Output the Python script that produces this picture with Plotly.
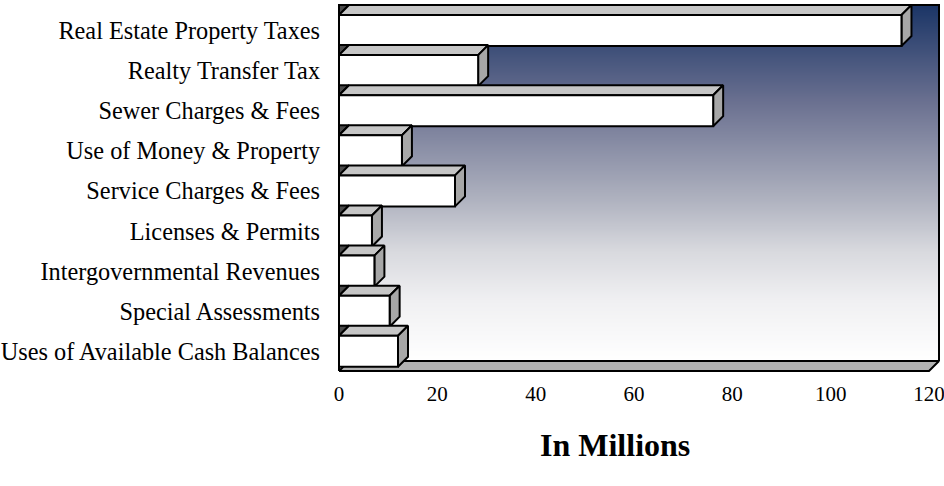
import numpy as np
import plotly.graph_objects as go

# Revenue sources (top to bottom) and amounts in millions
categories = [
    "Real Estate Property Taxes",
    "Realty Transfer Tax",
    "Sewer Charges & Fees",
    "Use of Money & Property",
    "Service Charges & Fees",
    "Licenses & Permits",
    "Intergovernmental Revenues",
    "Special Assessments",
    "Uses of Available Cash Balances",
]
revenue = [114.4, 28.3, 76.1, 12.8, 23.6, 6.7, 7.2, 10.3, 12.0]
x_ticks = [0, 20, 40, 60, 80, 100, 120]

W, H = 944, 486
X_MAX = 120

# ---- pixel layout of the pseudo-3D plot box ----
PX_X0, PX_XMAX = 339, 929          # front edge: 0 .. 120
SX = (PX_XMAX - PX_X0) / X_MAX     # px per million
SY = 40.1                          # px per category row
ROW0 = 30.5                        # px centre of first row
DOM_BOTTOM_PX = 374
X_LO, X_HI = -0.6, 122.6

x_dom = [(PX_X0 + X_LO * SX) / W, (PX_X0 + X_HI * SX) / W]
y_top_val = -ROW0 / SY
y_bot_val = (DOM_BOTTOM_PX - ROW0) / SY
y_dom = [(H - DOM_BOTTOM_PX) / H, 1.0]

HALF = 15.5 / SY                   # half bar thickness
DX = 10 / SX                       # depth offset (x)
DY = 10 / SY                       # depth offset (y, upward)
FLOOR = y_top_val + 371 / SY       # front floor edge
WALL_TOP = -HALF - DY

EDGE = dict(color="black", width=2)
TOP_FACE = "#c6c6c6"
SIDE_FACE = "#a7a7a7"
SHADOW = "#4a4a4a"
FLOOR_FACE = "#b2b2b2"

fig = go.Figure()

# back wall gradient
n_rows = 80
wall_y = np.linspace(WALL_TOP, FLOOR - DY, n_rows + 1)
t = (np.arange(n_rows) + 0.5) / n_rows
fig.add_trace(go.Heatmap(
    x=[DX, X_MAX / 2 + DX, X_MAX + DX],
    y=wall_y,
    z=np.column_stack([t, t]),
    zmin=0, zmax=1,
    colorscale=[
        [0.0, "#1b3566"],
        [0.27, "#6a7090"],
        [0.55, "#b0b3c0"],
        [0.69, "#d8d9de"],
        [0.83, "#f0f0f2"],
        [1.0, "#ffffff"],
    ],
    zsmooth="best",
    showscale=False,
    hoverinfo="skip",
))

# wall outline (top and right edges)
fig.add_trace(go.Scatter(
    x=[DX, X_MAX + DX, X_MAX + DX],
    y=[WALL_TOP, WALL_TOP, FLOOR - DY],
    mode="lines", line=EDGE, hoverinfo="skip", showlegend=False,
))

# floor slab
fig.add_trace(go.Scatter(
    x=[0, X_MAX, X_MAX + DX, DX, 0],
    y=[FLOOR, FLOOR, FLOOR - DY, FLOOR - DY, FLOOR],
    mode="lines", fill="toself", fillcolor=FLOOR_FACE, line=EDGE,
    hoverinfo="skip", showlegend=False,
))


def face(xs, ys, color):
    fig.add_trace(go.Scatter(
        x=xs + [xs[0]], y=ys + [ys[0]], mode="lines", fill="toself",
        fillcolor=color, line=EDGE, hoverinfo="skip", showlegend=False,
    ))


# bars: shadow wedge, top, side and front faces
for i, v in enumerate(revenue):
    top, bot = i - HALF, i + HALF
    face([0, 0, DX], [top, top - DY, top - DY], SHADOW)
    face([0, v, v + DX, DX], [top, top, top - DY, top - DY], TOP_FACE)
    face([v, v + DX, v + DX, v], [top, top - DY, bot - DY, bot], SIDE_FACE)
    face([0, v, v, 0], [top, top, bot, bot], "white")

# front-left edge
fig.add_trace(go.Scatter(
    x=[0, 0], y=[-HALF - DY, FLOOR], mode="lines", line=EDGE,
    hoverinfo="skip", showlegend=False,
))

fig.update_layout(
    width=W, height=H,
    margin=dict(l=0, r=0, t=0, b=0, autoexpand=False),
    paper_bgcolor="white", plot_bgcolor="rgba(0,0,0,0)",
    font=dict(family="Liberation Serif, Times New Roman, serif", color="black"),
    showlegend=False,
    xaxis=dict(
        domain=x_dom, range=[X_LO, X_HI], tickvals=x_ticks,
        ticktext=[str(v) for v in x_ticks],
        showgrid=False, zeroline=False, showline=False, ticks="",
        tickfont=dict(size=21), ticklabelstandoff=5,
        automargin=False, ticklabeloverflow="allow",
    ),
    yaxis=dict(
        domain=y_dom, range=[y_bot_val, y_top_val],
        tickvals=list(range(len(categories))), ticktext=categories,
        showgrid=False, zeroline=False, showline=False, ticks="",
        tickfont=dict(size=24.3), ticklabelstandoff=15,
        automargin=False, ticklabeloverflow="allow",
    ),
    annotations=[dict(
        text="<b>In Millions</b>", xref="paper", yref="paper",
        x=615 / W, y=(H - 445) / H, xanchor="center", yanchor="middle",
        showarrow=False, font=dict(size=32),
    )],
)

fig.write_html("out.html")
